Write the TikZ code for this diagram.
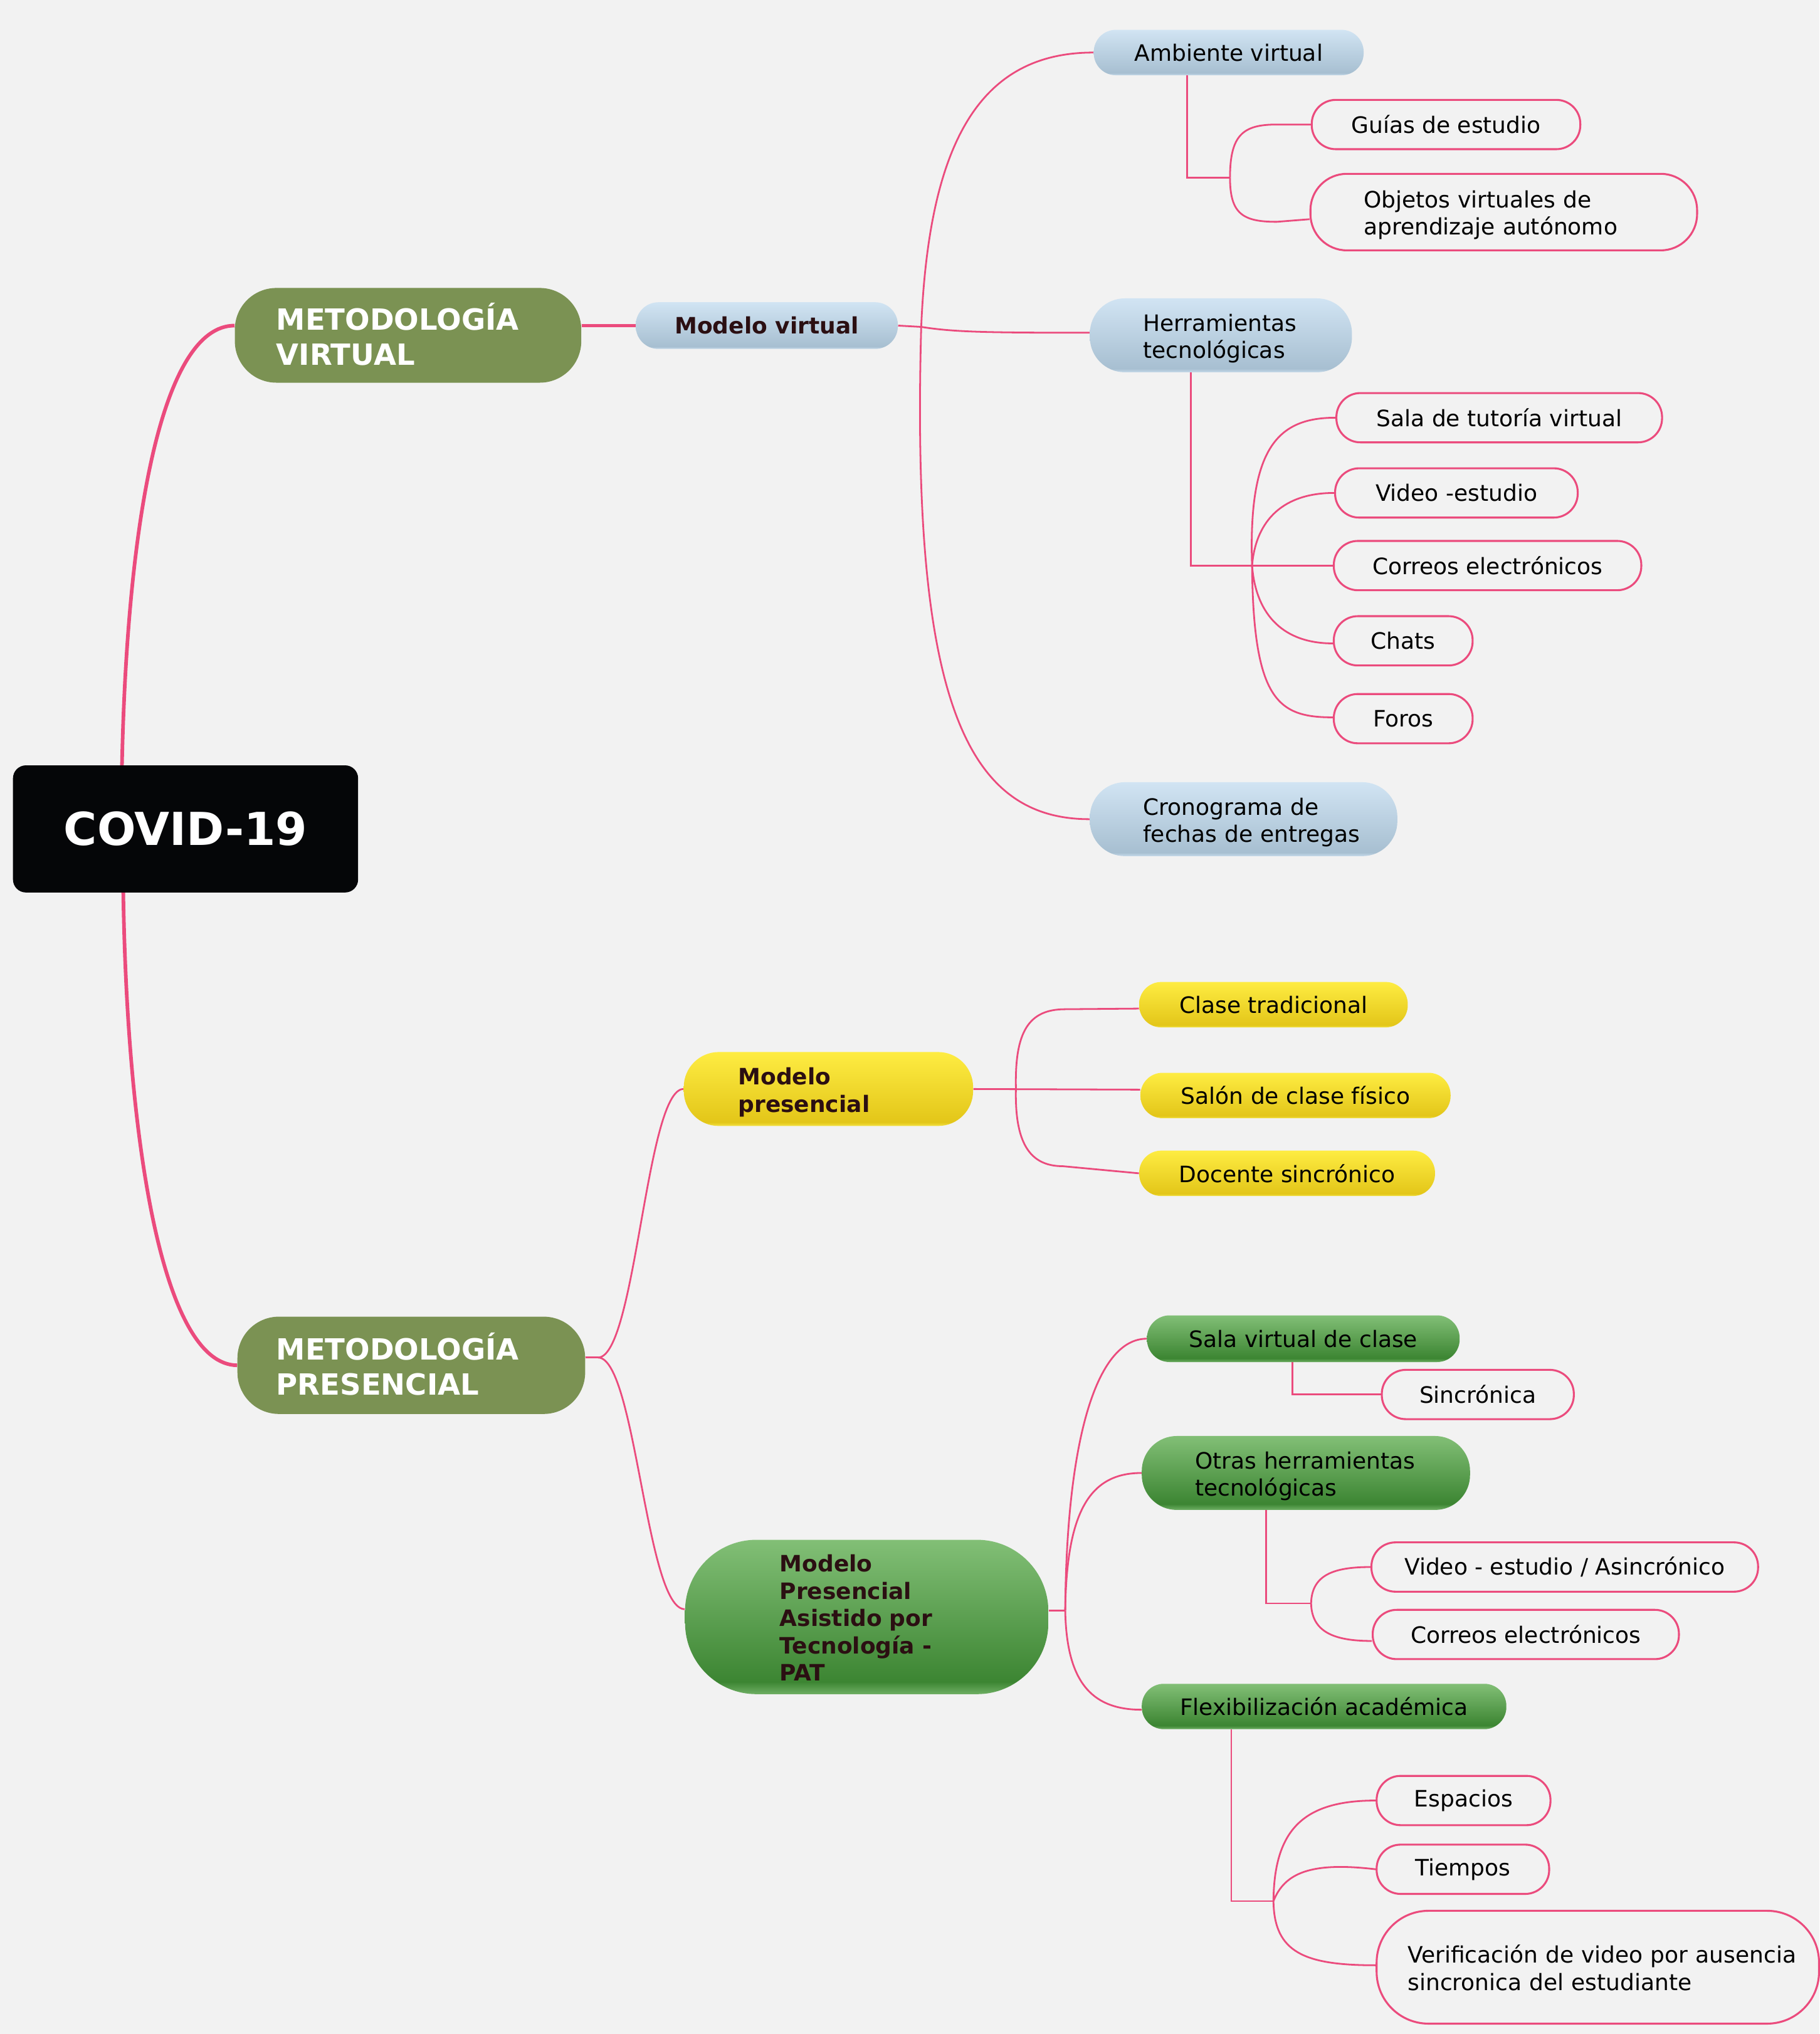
\documentclass[tikz,border=0pt]{standalone}
\usepackage{fontspec}
\setmainfont{DejaVu Sans}
\usetikzlibrary{backgrounds,calc}
\definecolor{bg}{HTML}{F2F2F2}
\definecolor{pk}{HTML}{EB4B7D}
\definecolor{olivebox}{HTML}{7B9253}
\definecolor{dk}{HTML}{2B0F12}
\definecolor{covidbg}{HTML}{050608}
\definecolor{blA}{HTML}{C6DAEA}
\definecolor{blB}{HTML}{A7BFD1}
\definecolor{blC}{HTML}{D1E4F3}
\definecolor{yeA}{HTML}{F3E244}
\definecolor{yeB}{HTML}{E3C619}
\definecolor{yeC}{HTML}{FEEC42}
\definecolor{grA}{HTML}{6FAF64}
\definecolor{grB}{HTML}{3C8532}
\definecolor{grC}{HTML}{82BF76}
\pgfdeclareverticalshading{blsh}{100bp}{color(0bp)=(blA); color(25bp)=(blA); color(27.5bp)=(blB); color(75bp)=(blC); color(100bp)=(blC)}
\pgfdeclareverticalshading{yesh}{100bp}{color(0bp)=(yeA); color(25bp)=(yeA); color(27.5bp)=(yeB); color(75bp)=(yeC); color(100bp)=(yeC)}
\pgfdeclareverticalshading{grsh}{100bp}{color(0bp)=(grA); color(25bp)=(grA); color(29bp)=(grB); color(75bp)=(grC); color(100bp)=(grC)}
\newcommand{\mfnorm}{\fontsize{17.4pt}{21pt}\selectfont}
\newcommand{\mfbold}{\fontsize{17.4pt}{21pt}\selectfont\bfseries}
\newcommand{\mfmet}{\fontsize{22.5pt}{27pt}\selectfont\bfseries}
\newcommand{\mfcov}{\fontsize{35pt}{40pt}\selectfont\bfseries}
\newcommand{\padlines}[2]{\hspace*{#1pt}\raisebox{-3pt}[\height][\depth]{\begin{tabular}[c]{@{}l@{}}#2\end{tabular}}}
\tikzset{
  every node/.style={inner sep=0pt},
  thinc/.style={draw=pk, line width=1.35pt},
  thickc/.style={draw=pk, line width=2.8pt},
  leaf/.style={draw=pk, line width=1.5pt, fill=bg, text=black, font=\mfnorm, rounded corners=18.5pt, minimum height=38pt},
  bluebox/.style={shade, shading=blsh, text=black, font=\mfnorm},
  yelbox/.style={shade, shading=yesh, text=black, font=\mfnorm},
  grnbox/.style={shade, shading=grsh, text=black, font=\mfnorm},
  metbox/.style={fill=olivebox, text=white, font=\mfmet, rounded corners=32pt, align=left, text width=267pt, minimum height=73pt},
}
\begin{document}
\begin{tikzpicture}[x=1pt,y=1pt]
\useasboundingbox (0,0) rectangle (1402.3,-1568);
% nodes
\node[fill=covidbg, rounded corners=10pt, minimum width=266pt, minimum height=98pt, text=white, font=\mfcov] (covid) at (143,-639) {COVID-19};
\node[metbox] (mv) at (314.5,-258.5) {\padlines{32}{METODOLOGÍA\\VIRTUAL}};
\node[metbox, minimum height=75pt, text width=268pt] (mp) at (317,-1052.5) {\padlines{30}{METODOLOGÍA\\PRESENCIAL}};
\node[bluebox, font=\mfbold, text=dk, minimum width=202pt, minimum height=36pt, rounded corners=17.5pt] (modv) at (591,-251) {Modelo virtual};
\node[bluebox, minimum width=208pt, minimum height=35pt, rounded corners=17pt] (amb) at (947,-40.5) {Ambiente virtual};
\node[leaf, minimum width=207pt] (guias) at (1114.5,-96) {Guías de estudio};
\node[leaf, text width=298pt, align=left, minimum height=59pt, rounded corners=28pt] (obj) at (1159,-163.5) {\padlines{41}{Objetos virtuales de\\aprendizaje autónomo}};
\node[bluebox, text width=202pt, align=left, minimum height=57pt, rounded corners=27pt] (herr) at (941,-258.5) {\padlines{41}{Herramientas\\tecnológicas}};
\node[leaf, minimum width=251pt] (sala) at (1155.5,-322) {Sala de tutoría virtual};
\node[leaf, minimum width=187pt] (video) at (1122.5,-380) {Video -estudio};
\node[leaf, minimum width=237pt] (corr) at (1146.5,-436) {Correos electrónicos};
\node[leaf, minimum width=107pt] (chats) at (1081.5,-494) {Chats};
\node[leaf, minimum width=107pt] (foros) at (1081.5,-554) {Foros};
\node[bluebox, text width=237pt, align=left, minimum height=57pt, rounded corners=27pt] (crono) at (958.5,-631.5) {\padlines{41}{Cronograma de\\fechas de entregas}};
\node[yelbox, font=\mfbold, text=dk, text width=223pt, align=left, minimum height=57pt, rounded corners=27pt] (modp) at (638.5,-839.5) {\padlines{42}{Modelo\\presencial}};
\node[yelbox, minimum width=207pt, minimum height=35pt, rounded corners=17pt] (clase) at (981.5,-774.5) {Clase tradicional};
\node[yelbox, minimum width=239pt, minimum height=35pt, rounded corners=17pt] (salon) at (998.5,-844.5) {Salón de clase físico};
\node[yelbox, minimum width=228pt, minimum height=35pt, rounded corners=17pt] (doc) at (992,-904.5) {Docente sincrónico};
\node[grnbox, font=\mfbold, text=dk, text width=280pt, align=left, minimum height=119pt, rounded corners=55pt] (pat) at (668,-1246.5) {\padlines{73}{Modelo\\Presencial\\Asistido por\\Tecnología -\\PAT}};
\node[grnbox, minimum width=241pt, minimum height=36pt, rounded corners=17.5pt] (salav) at (1004.5,-1032) {Sala virtual de clase};
\node[leaf, minimum width=148pt] (sincr) at (1139,-1075) {Sincrónica};
\node[grnbox, text width=253pt, align=left, minimum height=57pt, rounded corners=27pt] (otras) at (1006.5,-1135.5) {\padlines{41}{Otras herramientas\\tecnológicas}};
\node[leaf, minimum width=298pt] (videoa) at (1206,-1208) {Video - estudio / Asincrónico};
\node[leaf, minimum width=236pt] (corr2) at (1176,-1260) {Correos electrónicos};
\node[grnbox, minimum width=281pt, minimum height=35pt, rounded corners=17pt] (flex) at (1020.5,-1315.5) {Flexibilización académica};
\node[leaf, minimum width=134pt] (esp) at (1128,-1388) {Espacios};
\node[leaf, minimum width=133pt] (tiem) at (1127.5,-1441) {Tiempos};
\node[leaf, text width=341pt, align=left, minimum height=87pt, rounded corners=40pt] (verif) at (1231.5,-1516.5) {\padlines{24}{Verificación de video por ausencia\\sincronica del estudiante}};
% junction coordinates
\coordinate (ctop) at (94,-590);
\coordinate (cbot) at (95,-688);
\coordinate (j1) at (710,-252);
\coordinate (a1) at (915,-137);
\coordinate (ja) at (948,-137);
\coordinate (ga) at (984,-96);
\coordinate (oa) at (984,-171);
\coordinate (h1) at (918,-436);
\coordinate (jh) at (965,-436);
\coordinate (jm) at (461,-1046.5);
\coordinate (jp) at (783,-839);
\coordinate (cp) at (821,-778);
\coordinate (dp) at (819,-899);
\coordinate (jt) at (821,-1241.5);
\coordinate (s1) at (996,-1075);
\coordinate (o1) at (976,-1236);
\coordinate (jo) at (1010.5,-1236);
\coordinate (f1) at (949,-1465.5);
\coordinate (jf) at (981.5,-1465.5);
\begin{pgfonlayer}{background}
\fill[bg] (0,0) rectangle (1402.3,-1568);
% thick connectors
\draw[thickc] (ctop) .. controls (98,-400) and (125,-251) .. (mv.west |- modv.center);
\draw[thickc] (cbot) .. controls (98,-880) and (125,-1052) .. (mp.west);
\draw[thickc] (mv.east |- modv.center) -- (modv.west);
% modelo virtual
\draw[thinc] (modv.east) -- (j1);
\draw[thinc] (j1) .. controls (716,-110) and (755,-40.5) .. (amb.west);
\draw[thinc] (j1) .. controls (735,-256) and (760,-256.5) .. ($(herr.west)+(0,2)$);
\draw[thinc] (j1) .. controls (702,-540) and (745,-631.5) .. (crono.west);
% ambiente
\draw[thinc] (amb.south -| a1) -- (a1) -- (ja);
\draw[thinc] (ja) .. controls (948,-104) and (958,-96) .. (ga) -- (guias.west);
\draw[thinc] (ja) .. controls (948,-165) and (958,-171) .. (oa) -- ($(obj.west)+(0,-5.5)$);
% herramientas
\draw[thinc] (herr.south -| h1) -- (h1) -- (corr.west);
\draw[thinc] (jh) .. controls (962,-345) and (985,-322) .. (sala.west);
\draw[thinc] (jh) .. controls (968,-400) and (990,-380) .. (video.west);
\draw[thinc] (jh) .. controls (968,-475) and (990,-496) .. ($(chats.west)+(0,-2)$);
\draw[thinc] (jh) .. controls (966,-540) and (985,-553) .. ($(foros.west)+(0,1)$);
% metodologia presencial
\draw[thinc] (mp.east |- jm) -- (jm);
\draw[thinc] (jm) .. controls (490,-1046) and (498,-839.5) .. (modp.west);
\draw[thinc] (jm) .. controls (490,-1047) and (498,-1240.5) .. ($(pat.west)+(0,6)$);
% modelo presencial
\draw[thinc] (modp.east) -- ($(salon.west)+(0,4.5)$);
\draw[thinc] (jp) .. controls (782,-795) and (793,-778) .. (cp) -- ($(clase.west)+(0,-3)$);
\draw[thinc] (jp) .. controls (782,-880) and (793,-899) .. (dp) -- (doc.west);
% PAT
\draw[thinc] ($(pat.east)+(0,5)$) -- (jt);
\draw[thinc] (jt) .. controls (822,-1110) and (845,-1032) .. (salav.west);
\draw[thinc] (jt) .. controls (822,-1165) and (840,-1135.5) .. (otras.west);
\draw[thinc] (jt) .. controls (822,-1295) and (840,-1318) .. ($(flex.west)+(0,-2.5)$);
% sala virtual
\draw[thinc] (salav.south -| s1) -- (s1) -- (sincr.west);
% otras
\draw[thinc] (otras.south -| o1) -- (o1) -- (jo);
\draw[thinc] (jo) .. controls (1011,-1214) and (1028,-1208) .. (videoa.west);
\draw[thinc] (jo) .. controls (1011,-1258) and (1028,-1265) .. ($(corr2.west)+(0,-5)$);
% flexibilizacion
\draw[thinc] (flex.south -| f1) -- (f1) -- (jf);
\draw[thinc] (jf) .. controls (982,-1410) and (1005,-1388) .. (esp.west);
\draw[thinc] (jf) .. controls (990,-1444) and (1010,-1435) .. (tiem.west);
\draw[thinc] (jf) .. controls (982,-1505) and (1005,-1515) .. ($(verif.west)+(0,1.5)$);
\end{pgfonlayer}
\end{tikzpicture}
\end{document}
